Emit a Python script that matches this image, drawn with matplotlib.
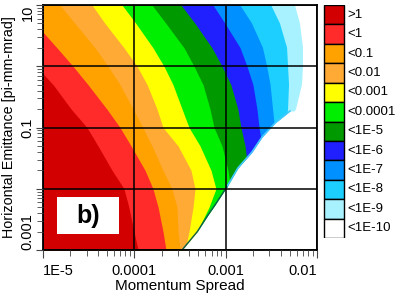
import matplotlib
matplotlib.use("Agg")
import matplotlib.pyplot as plt
from matplotlib.patches import Rectangle

plt.rcParams['font.family'] = ['Liberation Sans', 'DejaVu Sans']

# emittance rows [pi-mm-mrad] at which the contour boundaries were read
emittance = [10, 5, 2, 1, 0.5, 0.2, 0.1, 0.05, 0.02, 0.01, 0.005, 0.002, 0.001]

# momentum spread of each contour boundary (left colour | right colour)
b_gt1_lt1 = [2.3e-6, 3.6e-6, 6.4e-6, 8.4e-6, 1.29e-5, 2.03e-5, 3.03e-5, 4.0e-5, 5.7e-5, 7.7e-5, 8.7e-5, 9.9e-5, 1.10e-4]
b_lt1 = [5.3e-6, 8.2e-6, 1.42e-5, 2.13e-5, 3.11e-5, 5.0e-5, 6.97e-5, 9.2e-5, 1.31e-4, 1.60e-4, 1.82e-4, 2.06e-4, 2.22e-4]
b_lt01 = [1.53e-5, 2.24e-5, 3.71e-5, 5.15e-5, 6.97e-5, 9.7e-5, 1.24e-4, 1.56e-4, 2.06e-4, 2.58e-4, 2.93e-4, 3.01e-4, 3.16e-4]
b_lt001 = [3.44e-5, 4.77e-5, 7.7e-5, 1.07e-4, 1.38e-4, 1.77e-4, 2.06e-4, 3.01e-4, 4.17e-4, 4.62e-4, 4.39e-4, 3.97e-4, 3.59e-4]
b_lt0001 = [7.33e-5, 1.04e-4, 1.60e-4, 2.11e-4, 2.65e-4, 3.33e-4, 3.97e-4, 5.24e-4, 6.91e-4, 7.83e-4, 6.57e-4, 4.86e-4, 4.07e-4]
b_lt1e4 = [1.56e-4, 2.22e-4, 3.50e-4, 4.5e-4, 5.65e-4, 6.74e-4, 7.45e-4, 9.12e-4, 1.06e-3, 1.14e-3, 7.83e-4, 5.94e-4, 4.62e-4]
b_lt1e5 = [3.24e-4, 4.62e-4, 7.08e-4, 9.12e-4, 1.14e-3, 1.36e-3, 1.47e-3, 1.63e-3, 1.76e-3, 1.80e-3, 1.85e-3, 1.85e-3, 1.85e-3]
b_lt1e6 = [7.26e-4, 9.84e-4, 1.44e-3, 1.71e-3, 1.99e-3, 2.20e-3, 2.32e-3, 2.50e-3, 2.56e-3, 2.56e-3, 2.56e-3, 2.56e-3, 2.56e-3]
b_lt1e7 = [1.44e-3, 1.94e-3, 2.56e-3, 2.84e-3, 3.10e-3, 3.30e-3, 3.47e-3, 3.56e-3, 3.56e-3, 3.56e-3, 3.56e-3, 3.56e-3, 3.56e-3]
b_lt1e8 = [3.14e-3, 3.93e-3, 4.70e-3, 4.82e-3, 4.94e-3, 4.82e-3, 4.58e-3, 4.58e-3, 4.58e-3, 4.58e-3, 4.58e-3, 4.58e-3, 4.58e-3]
b_lt1e9 = [5.74e-3, 6.51e-3, 7.03e-3, 7.03e-3, 6.85e-3, 5.9e-3, 4.6e-3, 4.6e-3, 4.6e-3, 4.6e-3, 4.6e-3, 4.6e-3, 4.6e-3]

# lower-right edge of the tracked region
cut_emit = [0.186, 0.1185, 0.070, 0.0398, 0.0218, 0.0107, 0.00543, 0.00373, 0.00197, 0.001]
cut_spread = [5.06e-3, 3.47e-3, 2.50e-3, 1.94e-3, 1.36e-3, 1.03e-3, 7.64e-4, 6.41e-4, 4.86e-4, 3.33e-4]

levels = [">1", "<1", "<0.1", "<0.01", "<0.001", "<0.0001", "<1E-5", "<1E-6",
          "<1E-7", "<1E-8", "<1E-9", "<1E-10"]
colors = ["#d20000", "#ff2a2a", "#ffa200", "#ffaa34", "#ffff00", "#00ee00",
          "#009a00", "#2020ff", "#0090ff", "#1ccfff", "#a8f2ff", "#ffffff"]

bounds = [b_gt1_lt1, b_lt1, b_lt01, b_lt001, b_lt0001, b_lt1e4, b_lt1e5,
          b_lt1e6, b_lt1e7, b_lt1e8, b_lt1e9]

fig = plt.figure(figsize=(4.07, 3.02), dpi=100)
ax = fig.add_axes([43/407, 52/302, 274/407, 245/302])
ax.set_xscale('log')
ax.set_yscale('log')

for k in range(len(bounds) - 1, -1, -1):
    ax.fill_betweenx(emittance, 1e-7, bounds[k], color=colors[k], lw=0)

ax.fill_betweenx(cut_emit, cut_spread, 1.0, color='white', lw=0, zorder=1.2)
ax.plot(cut_spread[:6], cut_emit[:6], color='#40c8ff', lw=1.2, zorder=1.3)
ax.plot(cut_spread[5:], cut_emit[5:], color='#0b5a4c', lw=1.0, zorder=1.3)

ax.set_xlim(1e-5, 1e-2)
ax.set_ylim(1e-3, 10)
ax.set_axisbelow(False)
ax.grid(True, which='major', color='black', lw=1.1)

ax.set_xticks([1e-5, 1e-4, 1e-3, 1e-2])
xl = ax.set_xticklabels(['1E-5', '0.0001', '0.001', '0.01'], fontsize=10.5)
xl[0].set_ha('left')
xl[-1].set_ha('right')
ax.set_yticks([1e-3, 1e-2, 1e-1, 1, 10])
yl = ax.set_yticklabels(['0.001', '', '0.1', '', '10'], fontsize=10.5,
                        rotation=90, va='center')
yl[0].set_va('bottom')
yl[-1].set_va('top')
ax.tick_params(which='both', direction='out', color='#444444')
ax.tick_params(axis='x', which='major', length=6, pad=4)
ax.tick_params(axis='y', which='major', length=5, pad=1)
ax.tick_params(which='minor', length=4)
for s in ax.spines.values():
    s.set_linewidth(1.3)

ax.set_xlabel('Momentum Spread', fontsize=11)
ax.xaxis.set_label_coords(0.5, -0.12)
ax.set_ylabel('Horizontal Emittance [pi-mm-mrad]', fontsize=10.3)
ax.yaxis.set_label_coords(-0.1, 0.5)

ax.add_patch(Rectangle((0.05, 0.065), 0.226, 0.151, transform=ax.transAxes,
                       facecolor='white', edgecolor='none', zorder=5))
ax.text(0.163, 0.14, 'b)', transform=ax.transAxes, fontsize=18,
        fontweight='bold', ha='center', va='center', zorder=6)

# colour key
lax = fig.add_axes([323/407, 64/302, 84/407, 233/302])
lax.set_xlim(0, 84)
lax.set_ylim(233, 0)
lax.axis('off')
h = 233 / len(levels)
for i, (lab, c) in enumerate(zip(levels, colors)):
    lax.add_patch(Rectangle((0.5, i*h), 20, h, facecolor=c, edgecolor='black', lw=1.0))
    lax.text(24, (i + 0.5)*h, lab, fontsize=9.5, va='center', ha='left')

fig.savefig('out.png', dpi=100)
